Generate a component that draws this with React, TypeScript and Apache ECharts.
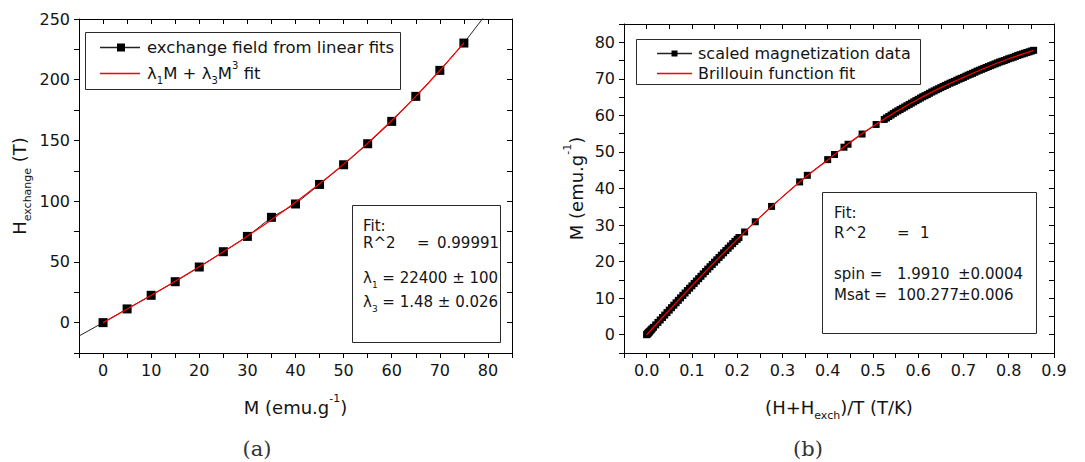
import React, { useEffect, useRef } from 'react';
import * as echarts from 'echarts';

// ---------- Panel (a): exchange field vs magnetization ----------
const M_VALUES = [0, 5, 10, 15, 20, 25, 30, 35, 40, 45, 50, 55, 60, 65, 70, 75];
const H_EXCHANGE = [0, 11.3, 22.5, 33.7, 45.8, 58.4, 71.0, 86.7, 97.7, 113.8, 130.0, 147.3, 165.7, 186.3, 207.7, 230.2];
const LINE_LEAD_IN = [-5, -11];
const LINE_LEAD_OUT = [80, 256];
const FIT_A_M = [0, 5, 10, 15, 20, 25, 30, 35, 40, 45, 50, 55, 60, 65, 70, 75];
const FIT_A_H = [0, 11.2, 22.5, 34.1, 46.0, 58.3, 71.2, 84.8, 99.1, 114.3, 130.5, 147.8, 166.4, 186.3, 207.6, 230.4];
const X_LABELS_A = [0, 10, 20, 30, 40, 50, 60, 70, 80];
const Y_LABELS_A = [0, 50, 100, 150, 200, 250];

// ---------- Panel (b): scaled magnetization vs (H+Hexch)/T ----------
const LOW_FIELD_X = [0, 0.001, 0.002, 0.003, 0.004, 0.005, 0.006, 0.008, 0.01, 0.012, 0.015, 0.02, 0.025, 0.03, 0.035, 0.04, 0.045, 0.05, 0.055, 0.06, 0.065, 0.07, 0.075, 0.08, 0.085, 0.09, 0.095, 0.1, 0.105, 0.11, 0.115, 0.12, 0.125, 0.13, 0.135, 0.14, 0.145, 0.15, 0.155, 0.16, 0.165, 0.17, 0.175, 0.18, 0.185, 0.19, 0.195, 0.2, 0.204];
const LOW_FIELD_M = [0, 0.13, 0.27, 0.40, 0.54, 0.67, 0.81, 1.08, 1.35, 1.62, 2.02, 2.69, 3.37, 4.04, 4.71, 5.38, 6.06, 6.73, 7.40, 8.07, 8.74, 9.41, 10.08, 10.75, 11.41, 12.08, 12.73, 13.37, 14.03, 14.69, 15.34, 15.99, 16.65, 17.30, 17.95, 18.60, 19.23, 19.85, 20.49, 21.13, 21.77, 22.40, 23.03, 23.66, 24.29, 24.91, 25.53, 26.1, 26.6];
const MID_FIELD_X = [0.2165, 0.24, 0.276, 0.338, 0.355, 0.4, 0.415, 0.436, 0.445, 0.476, 0.507];
const MID_FIELD_M = [28.1, 30.9, 35.1, 41.8, 43.6, 47.9, 49.3, 51.3, 52.1, 54.9, 57.5];
const HIGH_FIELD_X = [0.525, 0.53, 0.535, 0.54, 0.545, 0.55, 0.555, 0.56, 0.565, 0.57, 0.575, 0.58, 0.585, 0.59, 0.595, 0.6, 0.605, 0.61, 0.615, 0.62, 0.625, 0.63, 0.635, 0.64, 0.645, 0.65, 0.655, 0.66, 0.665, 0.67, 0.675, 0.68, 0.685, 0.69, 0.695, 0.7, 0.705, 0.71, 0.715, 0.72, 0.725, 0.73, 0.735, 0.74, 0.745, 0.75, 0.755, 0.76, 0.765, 0.77, 0.775, 0.78, 0.785, 0.79, 0.795, 0.8, 0.805, 0.81, 0.815, 0.82, 0.825, 0.83, 0.835, 0.84, 0.845, 0.85, 0.855];
const HIGH_FIELD_M = [58.9, 59.3, 59.7, 60.1, 60.5, 60.9, 61.25, 61.6, 61.95, 62.3, 62.65, 63.0, 63.35, 63.7, 64.05, 64.4, 64.75, 65.1, 65.4, 65.7, 66.05, 66.4, 66.7, 67.0, 67.3, 67.6, 67.9, 68.2, 68.5, 68.8, 69.05, 69.3, 69.6, 69.9, 70.15, 70.4, 70.7, 71.0, 71.25, 71.5, 71.8, 72.1, 72.35, 72.6, 72.85, 73.1, 73.35, 73.6, 73.85, 74.1, 74.35, 74.6, 74.8, 75.0, 75.25, 75.5, 75.7, 75.9, 76.15, 76.4, 76.6, 76.8, 77.0, 77.2, 77.4, 77.6, 77.8];
const FIT_B_X = [0, 0.05, 0.1, 0.15, 0.2, 0.25, 0.3, 0.35, 0.4, 0.45, 0.5, 0.55, 0.6, 0.65, 0.7, 0.75, 0.8, 0.855];
const FIT_B_M = [0, 6.73, 13.37, 19.85, 26.1, 32.1, 37.7, 43.0, 47.8, 52.7, 57.0, 60.9, 64.4, 67.6, 70.4, 73.1, 75.5, 77.8];
const X_LABELS_B = ['0.0', '0.1', '0.2', '0.3', '0.4', '0.5', '0.6', '0.7', '0.8', '0.9'];
const Y_LABELS_B = [0, 10, 20, 30, 40, 50, 60, 70, 80];

const FONT = 'DejaVu Sans';
const TXT = '#141414';
const RED = '#ff0000';

const zip = (xs: number[], ys: number[]) => xs.map((x, i) => [x, ys[i]]);

const richSS = {
  sub: { fontSize: 11, fontFamily: FONT, color: TXT, verticalAlign: 'bottom', lineHeight: 11 },
  sup: { fontSize: 11, fontFamily: FONT, color: TXT, verticalAlign: 'top', lineHeight: 11 },
};

const nameStyle = { fontSize: 18, fontFamily: FONT, color: TXT, lineHeight: 28, rich: richSS };

function frameAxis(gridIndex: number, position: string, min: number, max: number, interval: number, extra: any = {}) {
  const labeled = position === 'bottom' || position === 'left';
  return {
    gridIndex,
    type: 'value',
    position,
    min,
    max,
    interval,
    splitLine: { show: false },
    axisLine: { show: true, onZero: false, lineStyle: { color: '#000', width: 1 } },
    axisTick: { show: true, inside: !labeled, length: 5, lineStyle: { color: '#000', width: 1 } },
    axisLabel: { show: labeled, fontSize: 16, fontFamily: FONT, color: TXT, margin: 9 },
    ...extra,
  };
}

function txt(id: string, x: number, y: number, text: string, size: number, extra: any = {}) {
  return {
    id,
    type: 'text',
    x,
    y,
    z: 120,
    style: {
      text,
      fontSize: size,
      fontFamily: FONT,
      fill: TXT,
      align: 'left',
      verticalAlign: 'middle',
      textAlign: 'left',
      textVerticalAlign: 'middle',
      lineHeight: size + 8,
      rich: {
        sub: { fontSize: Math.round(size * 0.62), fontFamily: FONT, fill: TXT, verticalAlign: 'bottom', lineHeight: 10 },
        sup: { fontSize: Math.round(size * 0.62), fontFamily: FONT, fill: TXT, verticalAlign: 'top', lineHeight: 10 },
      },
      ...extra,
    },
  };
}

function box(id: string, x: number, y: number, w: number, h: number) {
  return {
    id,
    type: 'rect',
    z: 110,
    shape: { x: x + 0.5, y: y + 0.5, width: w, height: h },
    style: { fill: '#fff', stroke: '#2a2a2a', lineWidth: 1 },
  };
}

function sample(id: string, x1: number, x2: number, y: number, color: string) {
  return {
    id,
    type: 'line',
    z: 130,
    shape: { x1, y1: y + 0.5, x2, y2: y + 0.5 },
    style: { stroke: color, lineWidth: 1.3, fill: null },
  };
}

function square(id: string, cx: number, cy: number, s: number) {
  return { id, type: 'rect', z: 131, shape: { x: cx - s / 2, y: cy - s / 2, width: s, height: s }, style: { fill: '#000' } };
}

export default function App() {
  const ref = useRef<HTMLDivElement>(null);

  useEffect(() => {
    if (!ref.current) return;
    const chart = echarts.init(ref.current, undefined, { renderer: 'svg' });

    const dataA = [LINE_LEAD_IN, ...zip(M_VALUES, H_EXCHANGE), LINE_LEAD_OUT].map((p, i, arr) =>
      i === 0 || i === arr.length - 1 ? { value: p, symbol: 'none' } : { value: p }
    );
    const dataB = [
      ...zip(LOW_FIELD_X, LOW_FIELD_M),
      ...zip(MID_FIELD_X, MID_FIELD_M),
      ...zip(HIGH_FIELD_X, HIGH_FIELD_M),
    ];

    const option: any = {
      animation: false,
      backgroundColor: '#ffffff',
      textStyle: { fontFamily: FONT },
      grid: [
        { left: 79, top: 19, width: 433, height: 334 },
        { left: 624, top: 24, width: 430, height: 329 },
      ],
      xAxis: [
        frameAxis(0, 'bottom', -5, 85, 5, {
          axisLabel: {
            show: true, fontSize: 16, fontFamily: FONT, color: TXT, margin: 9,
            formatter: (v: number) => (X_LABELS_A.includes(v) ? String(v) : ''),
          },
          name: 'M (emu.g{sup|-1})',
          nameLocation: 'middle',
          nameGap: 40,
          nameTextStyle: nameStyle,
        }),
        frameAxis(0, 'top', -5, 85, 5),
        frameAxis(1, 'bottom', -0.05, 0.9, 0.05, {
          axisLabel: {
            show: true, fontSize: 16, fontFamily: FONT, color: TXT, margin: 9,
            formatter: (v: number) => {
              const s = (Math.round(v * 100) / 100).toFixed(1);
              return X_LABELS_B.includes(s) && Math.abs(Math.round(v * 100) % 10) === 0 ? s : '';
            },
          },
          name: '(H+H{sub|exch})/T (T/K)',
          nameLocation: 'middle',
          nameGap: 40,
          nameTextStyle: nameStyle,
        }),
        frameAxis(1, 'top', -0.05, 0.9, 0.05),
      ],
      yAxis: [
        frameAxis(0, 'left', -25, 250, 25, {
          axisLabel: {
            show: true, fontSize: 16, fontFamily: FONT, color: TXT, margin: 9,
            formatter: (v: number) => (Y_LABELS_A.includes(v) ? String(v) : ''),
          },
          name: 'H{sub|exchange} (T)',
          nameLocation: 'middle',
          nameRotate: 90,
          nameGap: 46,
          nameTextStyle: nameStyle,
        }),
        frameAxis(0, 'right', -25, 250, 25),
        frameAxis(1, 'left', -5, 85, 5, {
          axisLabel: {
            show: true, fontSize: 16, fontFamily: FONT, color: TXT, margin: 9,
            formatter: (v: number) => (Y_LABELS_B.includes(v) ? String(v) : ''),
          },
          name: 'M (emu.g{sup|-1})',
          nameLocation: 'middle',
          nameRotate: 90,
          nameGap: 34,
          nameTextStyle: nameStyle,
        }),
        frameAxis(1, 'right', -5, 85, 5),
      ],
      series: [
        {
          name: 'exchange field from linear fits',
          type: 'line',
          xAxisIndex: 0,
          yAxisIndex: 0,
          data: dataA,
          symbol: 'rect',
          symbolSize: 9,
          showAllSymbol: true,
          itemStyle: { color: '#000' },
          lineStyle: { color: '#222', width: 1 },
          z: 2,
        },
        {
          name: 'λ1M + λ3M3 fit',
          type: 'line',
          xAxisIndex: 0,
          yAxisIndex: 0,
          data: zip(FIT_A_M, FIT_A_H),
          symbol: 'none',
          smooth: 0.3,
          lineStyle: { color: RED, width: 1.2 },
          z: 3,
        },
        {
          name: 'scaled magnetization data',
          type: 'line',
          xAxisIndex: 2,
          yAxisIndex: 2,
          data: dataB,
          symbol: 'rect',
          symbolSize: 7,
          showAllSymbol: true,
          itemStyle: { color: '#000' },
          lineStyle: { color: '#222', width: 1 },
          z: 2,
        },
        {
          name: 'Brillouin function fit',
          type: 'line',
          xAxisIndex: 2,
          yAxisIndex: 2,
          data: zip(FIT_B_X, FIT_B_M),
          symbol: 'none',
          smooth: 0.3,
          lineStyle: { color: RED, width: 1.2 },
          z: 3,
        },
      ],
      graphic: {
        elements: [
          // legend (a)
          box('legA', 85, 32, 315, 57),
          sample('legA1', 100, 140, 47, '#222'),
          square('legA1s', 121, 47.5, 8),
          txt('legA1t', 147, 47, 'exchange field from linear fits', 16.5),
          sample('legA2', 100, 140, 73, RED),
          txt('legA2t', 147, 73, 'λ{sub|1}M + λ{sub|3}M{sup|3} fit', 16.5),
          // fit box (a)
          box('fitA', 352, 205, 148, 137),
          txt('fitA1', 363, 226, 'Fit:', 15),
          txt('fitA2', 363, 243, 'R^2', 15),
          txt('fitA3', 417, 243, '=', 15),
          txt('fitA4', 437, 243, '0.99991', 15),
          txt('fitA5', 363, 278, 'λ{sub|1} = 22400 ± 100', 15),
          txt('fitA6', 363, 302, 'λ{sub|3} = 1.48 ± 0.026', 15),
          // legend (b)
          box('legB', 636, 39, 284, 45),
          sample('legB1', 657, 692, 53, '#222'),
          square('legB1s', 674.5, 53.5, 6),
          txt('legB1t', 698, 53, 'scaled magnetization data', 16),
          sample('legB2', 657, 692, 73, RED),
          txt('legB2t', 698, 73, 'Brillouin function fit', 16),
          // fit box (b)
          box('fitB', 822, 192, 214, 141),
          txt('fitB1', 834, 213, 'Fit:', 15),
          txt('fitB2', 834, 233, 'R^2', 15),
          txt('fitB3', 897, 233, '=', 15),
          txt('fitB4', 920, 233, '1', 15),
          txt('fitB5', 834, 274, 'spin =', 15),
          txt('fitB6', 897, 274, '1.9910', 15),
          txt('fitB7', 958, 274, '±0.0004', 15),
          txt('fitB8', 834, 295, 'Msat =', 15),
          txt('fitB9', 897, 295, '100.277', 15),
          txt('fitB10', 958, 295, '±0.006', 15),
          // panel labels
          txt('labA', 257, 449, '(a)', 21, { fontFamily: 'DejaVu Serif', fill: '#333', align: 'center', textAlign: 'center' }),
          txt('labB', 808, 449, '(b)', 21, { fontFamily: 'DejaVu Serif', fill: '#333', align: 'center', textAlign: 'center' }),
        ],
      },
    };

    chart.setOption(option);
    return () => chart.dispose();
  }, []);

  return (
    <div
      ref={ref}
      style={{ position: 'fixed', left: 0, top: 0, width: 1085, height: 462, background: '#fff' }}
    />
  );
}
